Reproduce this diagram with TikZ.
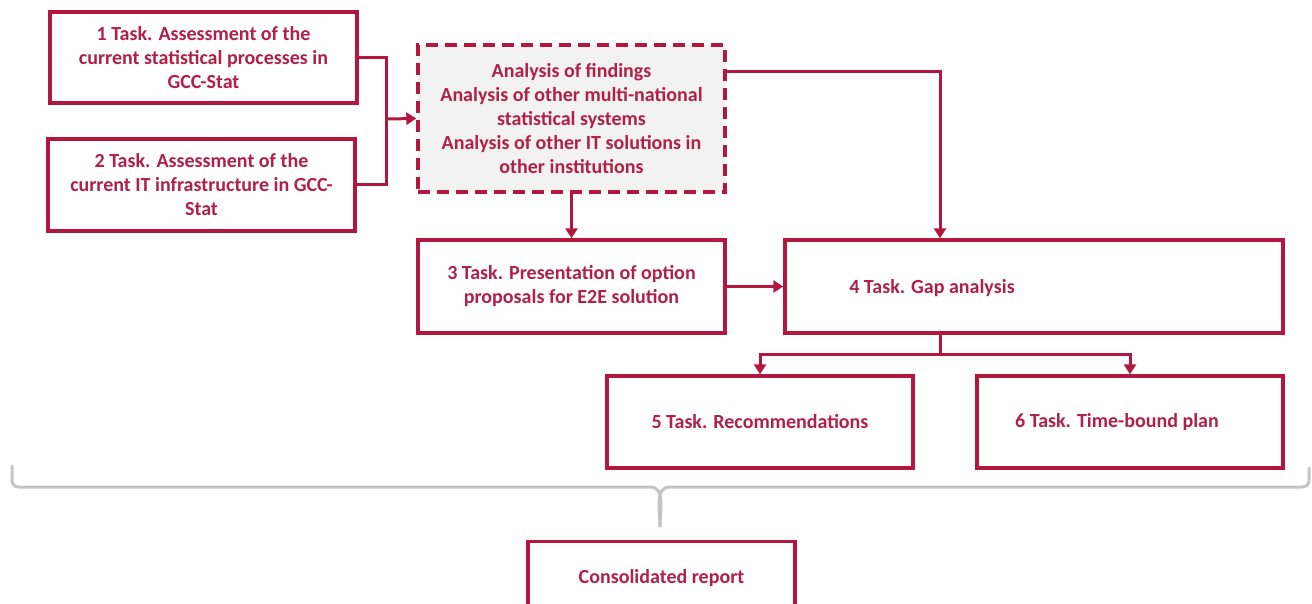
\documentclass[tikz,border=0pt]{standalone}
\usepackage{fontspec}
\setmainfont{Carlito}
\usetikzlibrary{arrows.meta}
\definecolor{crim}{HTML}{B3173F}
\definecolor{crimtext}{HTML}{B0204A}
\definecolor{shade}{HTML}{F2F2F2}
\definecolor{bracegray}{HTML}{C4C4C4}
\begin{document}
\begin{tikzpicture}[x=1pt,y=-1pt,
  every node/.style={font=\fontsize{20}{24}\selectfont\bfseries, text=crimtext},
  taskbox/.style={draw=crim, line width=3.4pt, fill=white, align=center, inner sep=0pt},
  linkline/.style={draw=crim, line width=3pt},
  arr/.style={linkline, -{Triangle[length=10pt,width=12pt]}},
  bracepath/.style={draw=bracegray, line width=3pt, line cap=round, line join=round}]
\useasboundingbox (0,0) rectangle (1312,604);

% upper row
\node[taskbox, minimum width=307pt, minimum height=91pt] (t1) at (203.5,57.5)
  {1 Task. Assessment of the\\current statistical processes in\\GCC-Stat};
\node[taskbox, minimum width=307pt, minimum height=92pt] (t2) at (201.5,185)
  {2 Task. Assessment of the\\current IT infrastructure in GCC-\\Stat};
\node[taskbox, fill=shade, dash pattern=on 12pt off 7pt, minimum width=307pt, minimum height=147pt] (an) at (571.5,118.5)
  {Analysis of findings\\Analysis of other multi-national\\statistical systems\\Analysis of other IT solutions in\\other institutions};

% middle row
\node[taskbox, minimum width=307pt, minimum height=93pt] (t3) at (571.5,286.5)
  {3 Task. Presentation of option\\proposals for E2E solution};
\node[taskbox, minimum width=498pt, minimum height=93pt] (t4) at (1034,286.5) {};
\node (t4label) at (932,288) {4 Task. Gap analysis};

% lower row
\node[taskbox, minimum width=306pt, minimum height=92pt] (t5) at (760,422)
  {5 Task. Recommendations};
\node[taskbox, minimum width=306pt, minimum height=92pt] (t6) at (1130,422) {};
\node (t6label) at (1117,422) {6 Task. Time-bound plan};

% report box, running past the lower edge
\node[taskbox, minimum width=267pt, minimum height=72pt, anchor=north] (rep) at (661.5,540)
  {Consolidated report};

% join points
\coordinate (jn) at (386,119);
\coordinate (j4) at (940,354);

% connectors
\draw[linkline] (t1.east) -| (jn);
\draw[linkline] (t2.east) -| (jn);
\draw[arr] (jn) -- (an.west);
\draw[arr] (an.east |- 0,72) -| (t4.north -| j4);
\draw[arr] (an.south) -- (t3.north);
\draw[arr] (t3.east) -- (t4.west);
\draw[linkline] (t4.south -| j4) -- (j4);
\draw[arr] (j4) -| (t5.north);
\draw[arr] (j4) -| (t6.north);

% grouping brace under the task boxes
\coordinate (bl) at (12,466);
\coordinate (br) at (1309,468);
\coordinate (btip) at (660,526);
\draw[bracepath] (bl) -- (12,481) to[out=-90,in=180] (19,487) -- (650,487)
  to[out=0,in=90] (btip);
\draw[bracepath] (br) -- (1309,481) to[out=-90,in=0] (1302,487) -- (670,487)
  to[out=180,in=90] (btip);
\end{tikzpicture}
\end{document}
